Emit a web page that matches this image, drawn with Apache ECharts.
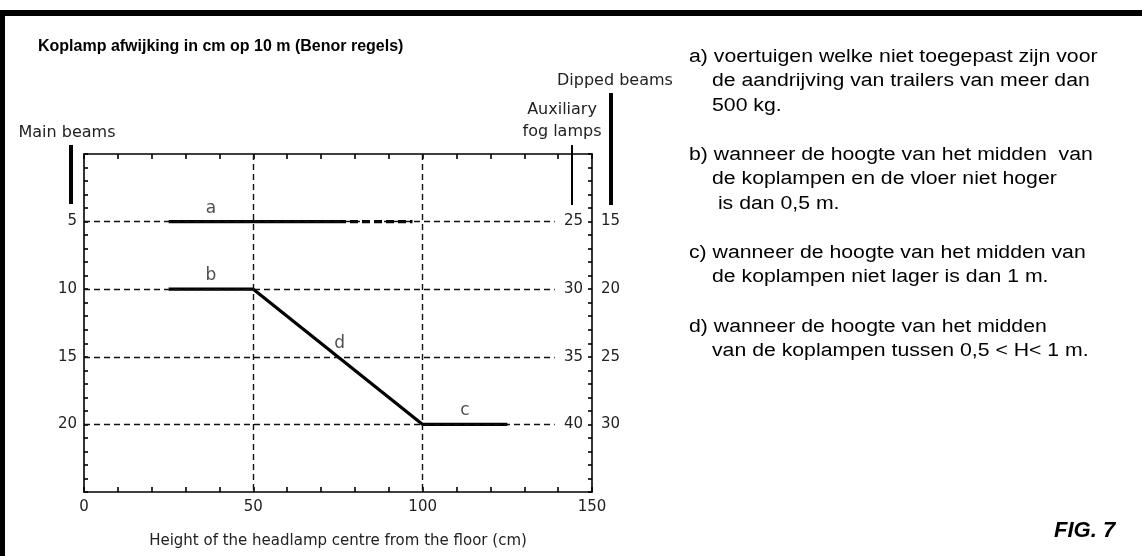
<!DOCTYPE html>
<html>
<head>
<meta charset="utf-8">
<script src="https://cdn.jsdelivr.net/npm/echarts@6/dist/echarts.min.js"></script>
<style>
  html, body { margin: 0; padding: 0; background: #fff; }
  #chart { width: 1142px; height: 556px; }
</style>
</head>
<body>
<div id="chart"></div>
<script>
// beam limits (x = headlamp height in cm, y = main beam deviation in cm)
var lineA = [[25, 5], [75, 5]];
var lineAEnd = [[75, 5], [97, 5]];
var lineB = [[25, 10], [50, 10]];
var lineD = [[50, 10], [100, 20]];
var lineC = [[100, 20], [125, 20]];

var letterLabels = [
  { name: 'a', value: [37.5, 5] },
  { name: 'b', value: [37.5, 10] },
  { name: 'd', value: [75.5, 15] },
  { name: 'c', value: [112.5, 20] }
];

var xTickLabels = [0, 50, 100, 150];
var mainBeamLabels = [5, 10, 15, 20];
var fogLampLabels = [25, 30, 35, 40];
var dippedBeamLabels = [15, 20, 25, 30];

var hGridValues = [5, 10, 15, 20];
var hGridEnd = 139;
var vGridValues = [50, 100];

var notes = [
  ['a) voertuigen welke niet toegepast zijn voor', 'de aandrijving van trailers van meer dan', '500 kg.'],
  ['b) wanneer de hoogte van het midden  van', 'de koplampen en de vloer niet hoger', ' is dan 0,5 m.'],
  ['c) wanneer de hoogte van het midden van', 'de koplampen niet lager is dan 1 m.'],
  ['d) wanneer de hoogte van het midden', 'van de koplampen tussen 0,5 < H< 1 m.']
];

var FONT = '"DejaVu Sans", sans-serif';
var TXT = '#222';
var chart = echarts.init(document.getElementById('chart'));

function showOnly(list) {
  return function (v) { return list.indexOf(v) >= 0 ? String(v) : ''; };
}

var markLines = [];
hGridValues.forEach(function (v) {
  markLines.push([{ coord: [0, v] }, { coord: [hGridEnd, v] }]);
});
vGridValues.forEach(function (v) {
  markLines.push({ xAxis: v });
});

var noteGraphics = [];
var noteTops = [57, 155, 253, 327];
notes.forEach(function (block, i) {
  block.forEach(function (line, j) {
    noteGraphics.push({
      type: 'text', x: j === 0 ? 689 : 712, y: noteTops[i] + j * 24.5, scaleX: 1.18,
      style: { text: line, font: '18px "Liberation Sans", Arial, sans-serif', fill: '#000', textVerticalAlign: 'middle' }
    });
  });
});

function axisText(text, x, y) {
  return {
    type: 'text', x: x, y: y,
    style: { text: text, font: '16px ' + FONT, fill: TXT, textAlign: 'center', textVerticalAlign: 'middle' }
  };
}

var tickStyle = { color: '#000', width: 1.6 };
var lineStyleAxis = { color: '#000', width: 1.6 };
var labelBase = { color: TXT, fontSize: 15, fontFamily: FONT };

chart.setOption({
  animation: false,
  grid: { left: 84, top: 154, right: 550, bottom: 64 },
  xAxis: [{
    type: 'value', position: 'bottom', min: 0, max: 150, interval: 10,
    axisLine: { onZero: false, lineStyle: lineStyleAxis },
    axisTick: { inside: true, length: 5, lineStyle: tickStyle },
    axisLabel: Object.assign({ formatter: showOnly(xTickLabels), margin: 8 }, labelBase),
    splitLine: { show: false },
    name: 'Height of the headlamp centre from the floor (cm)',
    nameLocation: 'middle', nameGap: 42,
    nameTextStyle: { color: TXT, fontSize: 15, fontFamily: FONT }
  }, {
    type: 'value', position: 'top', min: 0, max: 150, interval: 10,
    axisLine: { onZero: false, lineStyle: lineStyleAxis },
    axisTick: { inside: true, length: 5, lineStyle: tickStyle },
    axisLabel: { show: false },
    splitLine: { show: false }
  }],
  yAxis: [{
    type: 'value', position: 'left', inverse: true, min: 0, max: 25, interval: 5,
    axisLine: { show: true, onZero: false, lineStyle: lineStyleAxis },
    axisTick: { inside: true, length: 4, lineStyle: tickStyle },
    minorTick: { show: true, splitNumber: 5, length: 4, lineStyle: tickStyle },
    axisLabel: Object.assign({ formatter: showOnly(mainBeamLabels), margin: 7 }, labelBase),
    splitLine: { show: false }
  }, {
    type: 'value', position: 'right', inverse: true, min: 20, max: 45, interval: 5,
    axisLine: { show: true, onZero: false, lineStyle: lineStyleAxis },
    axisTick: { inside: true, length: 4, lineStyle: tickStyle },
    minorTick: { show: true, splitNumber: 5, length: 4, lineStyle: tickStyle },
    axisLabel: Object.assign({ inside: true, formatter: showOnly(fogLampLabels), margin: 9 }, labelBase),
    splitLine: { show: false }
  }, {
    type: 'value', position: 'right', inverse: true, min: 10, max: 35, interval: 5,
    axisLine: { show: false, onZero: false },
    axisTick: { show: false },
    axisLabel: Object.assign({ formatter: showOnly(dippedBeamLabels), margin: 9 }, labelBase),
    splitLine: { show: false }
  }],
  series: [
    {
      type: 'line', data: lineA, symbol: 'none', lineStyle: { color: '#000', width: 3.2 },
      markLine: {
        silent: true, symbol: 'none', label: { show: false },
        lineStyle: { color: '#111', width: 1.4, type: [6, 4] },
        data: markLines
      }
    },
    { type: 'line', data: lineAEnd, symbol: 'none', lineStyle: { color: '#000', width: 3.2, type: [8, 4] } },
    { type: 'line', data: lineB, symbol: 'none', lineStyle: { color: '#000', width: 3.2 } },
    { type: 'line', data: lineD, symbol: 'none', lineStyle: { color: '#000', width: 3.2 } },
    { type: 'line', data: lineC, symbol: 'none', lineStyle: { color: '#000', width: 3.2 } },
    {
      type: 'scatter', data: letterLabels, symbolSize: 0,
      label: { show: true, position: 'top', distance: 5, formatter: '{b}', color: TXT, fontSize: 17, fontFamily: FONT }
    }
  ],
  graphic: [
    { type: 'rect', shape: { x: 0, y: 10, width: 1142, height: 6 }, style: { fill: '#000' } },
    { type: 'rect', shape: { x: 0, y: 10, width: 5, height: 546 }, style: { fill: '#000' } },
    {
      type: 'text', x: 38, y: 47,
      style: { text: 'Koplamp afwijking in cm op 10 m (Benor regels)', font: 'bold 16px "Liberation Sans", Arial, sans-serif', fill: '#000', textVerticalAlign: 'middle' }
    },
    axisText('Main beams', 67, 133),
    axisText('Auxiliary', 562, 110),
    axisText('fog lamps', 562, 132),
    { type: 'text', x: 557, y: 81, style: { text: 'Dipped beams', font: '16px ' + FONT, fill: TXT, textVerticalAlign: 'middle' } },
    { type: 'rect', shape: { x: 69, y: 145, width: 4, height: 59 }, style: { fill: '#000' } },
    { type: 'rect', shape: { x: 571, y: 145, width: 2, height: 60 }, style: { fill: '#000' } },
    { type: 'rect', shape: { x: 609, y: 93, width: 4, height: 112 }, style: { fill: '#000' } },
    { type: 'rect', shape: { x: 674, y: 20, width: 468, height: 480 }, style: { fill: '#fff' } }
  ].concat(noteGraphics).concat([
    {
      type: 'text', x: 1054, y: 531,
      style: { text: 'FIG. 7', font: 'italic bold 22px "Liberation Sans", Arial, sans-serif', fill: '#000', textVerticalAlign: 'middle' }
    }
  ])
});
</script>
</body>
</html>
